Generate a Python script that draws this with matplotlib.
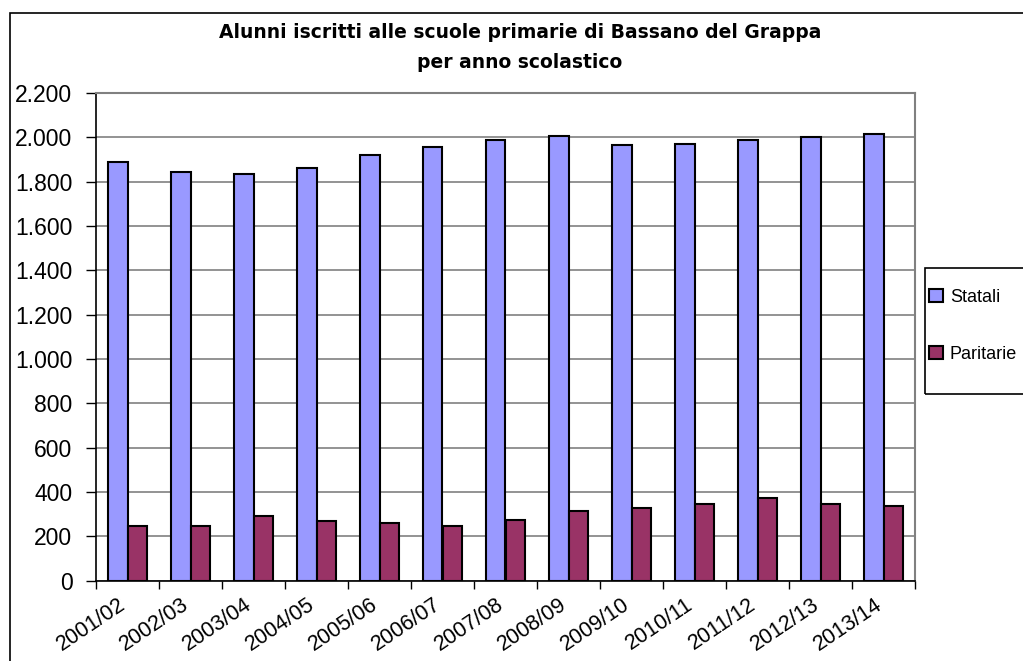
import numpy as np
import matplotlib
matplotlib.use("Agg")
import matplotlib.pyplot as plt
from matplotlib.patches import Rectangle, Patch
from matplotlib.ticker import FuncFormatter

plt.rcParams['font.family'] = ['Liberation Sans', 'DejaVu Sans']

anni = ["2001/02", "2002/03", "2003/04", "2004/05", "2005/06", "2006/07", "2007/08",
        "2008/09", "2009/10", "2010/11", "2011/12", "2012/13", "2013/14"]
statali = [1890, 1845, 1836, 1863, 1919, 1955, 1989, 2007, 1964, 1971, 1989, 2000, 2016]
paritarie = [246, 246, 292, 267, 258, 246, 274, 312, 328, 346, 371, 346, 336]

W, H = 1023, 661
fig = plt.figure(figsize=(W / 100, H / 100), dpi=100)
fig.patch.set_facecolor("white")

def px(x0, y0, x1, y1):
    # pixel box -> figure fraction [left, bottom, width, height]
    return [x0 / W, 1 - y1 / H, (x1 - x0) / W, (y1 - y0) / H]

ax = fig.add_axes(px(96, 93, 915, 580.5))

x = np.arange(len(anni))
bw = 0.31
ax.bar(x - bw / 2, statali, bw, color="#9999FF", edgecolor="black", linewidth=1.5, zorder=3)
ax.bar(x + bw / 2, paritarie, bw, color="#993366", edgecolor="black", linewidth=1.5, zorder=3)

ax.set_xlim(-0.5, len(anni) - 0.5)
ax.set_ylim(0, 2200)
ax.set_yticks(np.arange(0, 2201, 200))
ax.yaxis.set_major_formatter(FuncFormatter(lambda v, _: f"{int(v):,}".replace(",", ".")))
ax.yaxis.grid(True, color="#808080", linewidth=1.2, zorder=0)
ax.tick_params(axis="y", direction="out", length=7, width=1, labelsize=16.5, pad=10)

# category boundaries carry the tick marks, labels sit under the centres
ax.set_xticks(np.arange(-0.5, len(anni), 1.0))
ax.set_xticklabels([])
ax.tick_params(axis="x", which="major", direction="out", length=6, width=1)
ax.set_xticks(x - 0.15, minor=True)
ax.set_xticklabels(anni, minor=True, rotation=34, ha="right", va="top",
                   rotation_mode="anchor", fontsize=15.5)
ax.tick_params(axis="x", which="minor", length=0, pad=10)

for side in ("top", "right"):
    ax.spines[side].set_color("#808080")
    ax.spines[side].set_linewidth(1.5)
for side in ("left", "bottom"):
    ax.spines[side].set_color("black")
    ax.spines[side].set_linewidth(1.2)

title_kw = dict(ha="center", va="center", fontsize=13.5, fontweight="bold",
                family=["DejaVu Sans"])
fig.text(520 / W, 1 - 33 / H, "Alunni iscritti alle scuole primarie di Bassano del Grappa",
         **title_kw)
fig.text(520 / W, 1 - 63 / H, "per anno scolastico", **title_kw)

# outer chart border (runs off the right and bottom edges)
top_y = 1 - 13 / H
fig.patches.append(Rectangle((10 / W, -0.2), 1.2, top_y + 0.2, transform=fig.transFigure,
                             fill=False, edgecolor="black", linewidth=1.2))

# legend box
fig.patches.append(Rectangle((925 / W, 1 - 394 / H), 0.5, 126 / H, transform=fig.transFigure,
                             fill=False, edgecolor="black", linewidth=1.2))
handles = [Patch(facecolor="#9999FF", edgecolor="black", linewidth=1.5),
           Patch(facecolor="#993366", edgecolor="black", linewidth=1.5)]
fig.legend(handles, ["Statali", "Paritarie"], loc="upper left",
           bbox_to_anchor=(929 / W, 1 - 289 / H), frameon=False, fontsize=13,
           handlelength=0.75, handleheight=0.75, handletextpad=0.4, labelspacing=2.2,
           borderaxespad=0, borderpad=0)

fig.savefig("out.png", dpi=100)
